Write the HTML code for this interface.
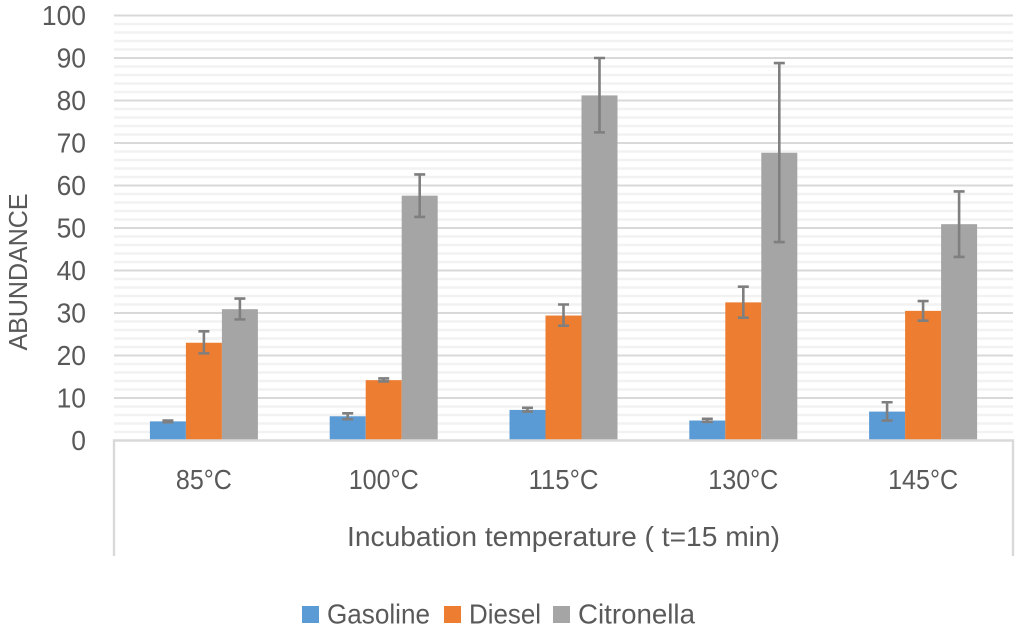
<!DOCTYPE html>
<html lang="en">
<head>
<meta charset="utf-8">
<title>Abundance by incubation temperature</title>
<style>
html,body{margin:0;padding:0;background:#fff;width:1024px;height:633px;overflow:hidden}
svg{display:block}
text{font-family:"Liberation Sans",sans-serif;fill:#595959}
</style>
</head>
<body>
<svg id="chart" width="1024" height="633" viewBox="0 0 1024 633" xmlns="http://www.w3.org/2000/svg">
  <g id="grid"></g>
  <g id="bars"></g>
  <g id="errors"></g>
  <g id="axes"></g>
  <text x="27" y="272" font-size="26" text-anchor="middle" textLength="157" lengthAdjust="spacingAndGlyphs" transform="rotate(-90 27 272)">ABUNDANCE</text>
  <text x="563.5" y="546" font-size="28" text-anchor="middle" textLength="433" lengthAdjust="spacingAndGlyphs">Incubation temperature ( t=15 min)</text>
  <g>
    <rect x="302" y="606" width="17" height="17" fill="#5b9bd5"></rect>
    <text x="327" y="623.5" font-size="28" textLength="103" lengthAdjust="spacingAndGlyphs">Gasoline</text>
    <rect x="444" y="606" width="17" height="17" fill="#ed7d31"></rect>
    <text x="469" y="623.5" font-size="28" textLength="72" lengthAdjust="spacingAndGlyphs">Diesel</text>
    <rect x="553" y="606" width="17" height="17" fill="#a5a5a5"></rect>
    <text x="578" y="623.5" font-size="28" textLength="117" lengthAdjust="spacingAndGlyphs">Citronella</text>
  </g>
</svg>
<script>
const categories = ['85°C', '100°C', '115°C', '130°C', '145°C'];
const gasoline = [4.5, 5.7, 7.2, 4.7, 6.8];
const diesel = [23, 14.2, 29.4, 32.5, 30.5];
const citronella = [30.9, 57.6, 81.2, 67.7, 50.9];
const gasolineHigh = [4.7, 6.4, 7.7, 5.1, 9];
const gasolineLow = [4.3, 5, 6.8, 4.4, 4.7];
const dieselHigh = [25.7, 14.6, 32, 36.2, 32.8];
const dieselLow = [20.5, 13.9, 27, 28.9, 28.2];
const citronellaHigh = [33.4, 62.6, 90, 88.8, 58.6];
const citronellaLow = [28.5, 52.6, 72.5, 46.7, 43.2];
const yTicks = [0, 10, 20, 30, 40, 50, 60, 70, 80, 90, 100];
const minorTicks = [2, 4, 6, 8, 12, 14, 16, 18, 22, 24, 26, 28, 32, 34, 36, 38, 42, 44, 46, 48, 52, 54, 56, 58, 62, 64, 66, 68, 72, 74, 76, 78, 82, 84, 86, 88, 92, 94, 96, 98];
const seriesNames = ['gasoline', 'diesel', 'citronella'];
const seriesValues = [gasoline, diesel, citronella];
const seriesHigh = [gasolineHigh, dieselHigh, citronellaHigh];
const seriesLow = [gasolineLow, dieselLow, citronellaLow];
const seriesColors = ['#5b9bd5', '#ed7d31', '#a5a5a5'];

const NS = 'http://www.w3.org/2000/svg';
const plotLeft = 114, plotRight = 1013, plotTop = 15.5, plotBottom = 440.5, axisEnd = 556;
const barWidth = 36;
const yMax = 100;
function yScale(v) {
  return plotBottom - (v / yMax) * (plotBottom - plotTop);
}
function xBand(i) {
  return plotLeft + (i + 0.5) * (plotRight - plotLeft) / categories.length;
}
function make(tag, attrs, parent) {
  const el = document.createElementNS(NS, tag);
  for (const k in attrs) el.setAttribute(k, attrs[k]);
  parent.appendChild(el);
  return el;
}
const gridG = document.getElementById('grid');
const barsG = document.getElementById('bars');
const errG = document.getElementById('errors');
const axesG = document.getElementById('axes');

minorTicks.forEach(function (t) {
  const l = make('line', {x1: plotLeft, x2: plotRight, y1: yScale(t), y2: yScale(t), stroke: '#f2f2f2', 'stroke-width': 2.4}, gridG);
  
  
});
yTicks.forEach(function (t) {
  if (t > 0) {
    const l = make('line', {x1: plotLeft, x2: plotRight, y1: yScale(t), y2: yScale(t), stroke: '#d9d9d9', 'stroke-width': 2}, gridG);
    
    
  }
  const text = String(t);
  const label = make('text', {x: 86, y: yScale(t) + 9.5, 'font-size': 28, 'text-anchor': 'end', textLength: text.length * 14.7, lengthAdjust: 'spacingAndGlyphs'}, axesG);
  label.textContent = text;
  
  
});

categories.forEach(function (cat, i) {
  const cx = xBand(i);
  seriesValues.forEach(function (vals, s) {
    const x = cx - barWidth * 1.5 + s * barWidth;
    const bar = make('rect', {x: x, y: yScale(vals[i]), width: barWidth, height: plotBottom - yScale(vals[i]), fill: seriesColors[s]}, barsG);
    
    
    const mid = x + barWidth / 2;
    const hi = yScale(seriesHigh[s][i]);
    const lo = yScale(seriesLow[s][i]);
    const err = make('path', {
      d: 'M' + mid + ' ' + hi + 'V' + lo + 'M' + (mid - 5.5) + ' ' + hi + 'H' + (mid + 5.5) + 'M' + (mid - 5.5) + ' ' + lo + 'H' + (mid + 5.5),
      stroke: '#7f7f7f', 'stroke-width': 2.6, fill: 'none'
    }, errG);
    
    
  });
  const label = make('text', {x: cx, y: 489, 'font-size': 28, 'text-anchor': 'middle', textLength: (cat.length - 2) * 14 + 28, lengthAdjust: 'spacingAndGlyphs'}, axesG);
  label.textContent = cat;
  
  
});

const axisPath = make('path', {
  d: 'M' + plotLeft + ' ' + axisEnd + 'V' + plotBottom + 'H' + plotRight + 'V' + axisEnd,
  stroke: '#d9d9d9', 'stroke-width': 2.4, fill: 'none'
}, axesG);


</script>
</body>
</html>
